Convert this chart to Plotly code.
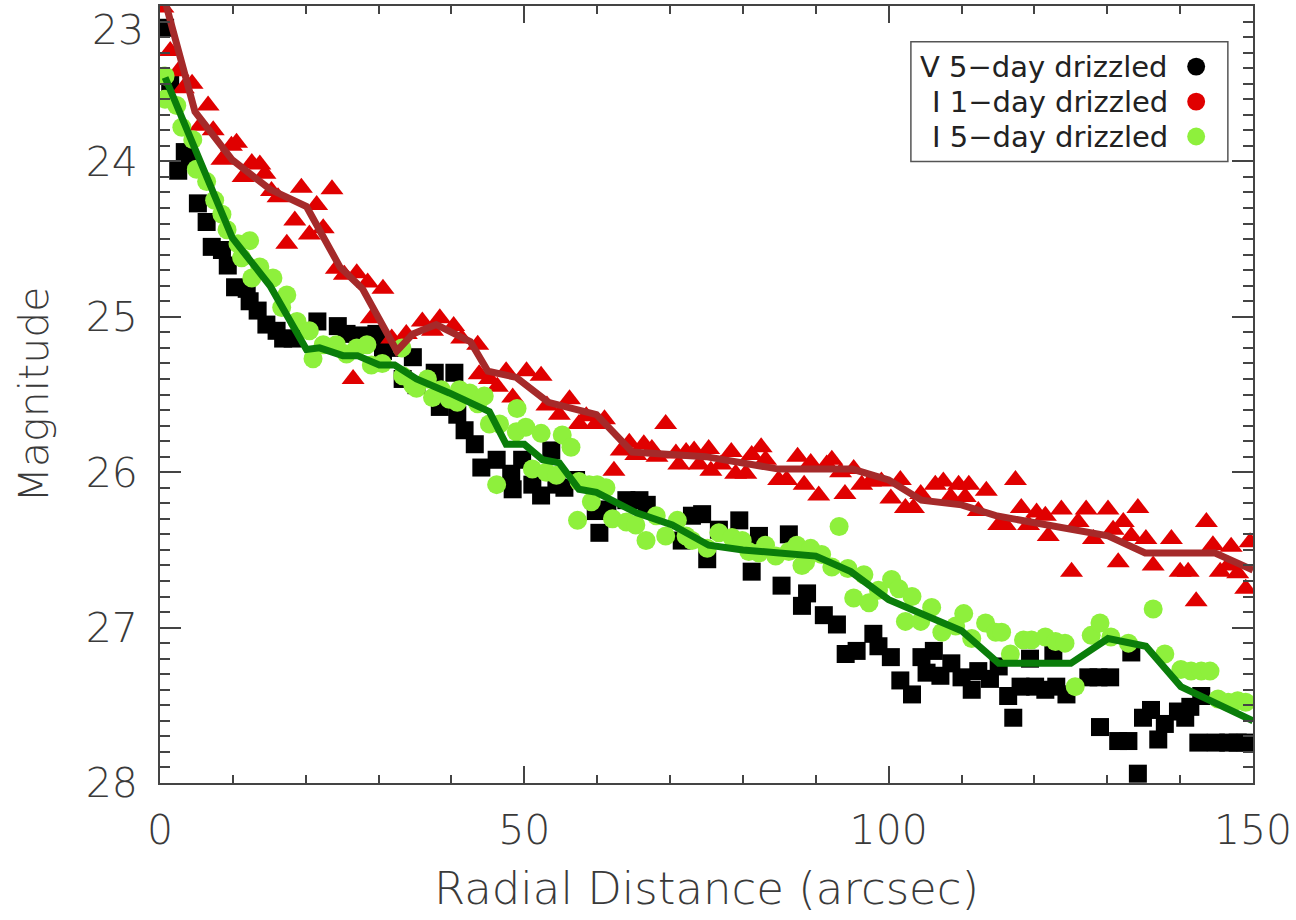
import plotly.graph_objects as go

# V 5-day drizzled (black squares)
v5_x = [0.7, 1.4, 2.5, 3.4, 4.1, 5.2, 6.4, 7.1, 8.5, 9.3, 10.3, 11.9, 12.3, 13.4, 14.6,
        16.0, 16.9, 18.2, 21.6, 24.4, 25.6, 27.8, 29.7, 30.6, 32.5, 33.3, 34.7, 35.2,
        37.7, 38.4, 40.4, 40.8, 41.8, 43.2, 44.1, 46.2, 48.2, 48.4, 49.7, 51.1, 52.3,
        53.7, 54.4, 55.5, 57.1, 59.8, 60.3, 61.4, 64.0, 65.8, 66.8, 71.6, 73.0, 74.4,
        75.1, 76.7, 79.5, 81.2, 82.2, 85.3, 86.3, 88.1, 88.8, 91.1, 92.9, 94.1, 95.6,
        97.9, 98.6, 100.3, 101.6, 103.2, 104.5, 105.2, 106.2, 107.1, 108.6, 110.0,
        111.4, 112.3, 113.9, 115.1, 116.4, 117.1, 118.1, 119.4, 120.1, 121.5, 122.6,
        123.0, 124.4, 127.4, 128.8, 129.0, 130.4, 131.5, 132.9, 133.3, 134.2, 134.9,
        136.0, 137.0, 137.9, 139.7, 140.7, 141.4, 142.5, 142.9, 144.9, 146.6, 147.9, 149.0]
v5_y = [23.14, 23.49, 24.06, 23.94, 23.99, 24.27, 24.39, 24.55, 24.57, 24.67, 24.81, 24.82,
        24.90, 24.96, 25.05, 25.09, 25.14, 25.14, 25.03, 25.06, 25.11, 25.12, 25.11, 25.22,
        25.20, 25.40, 25.26, 25.44, 25.36, 25.58, 25.36, 25.63, 25.73, 25.82, 25.97, 25.92,
        26.01, 26.11, 25.92, 26.08, 26.15, 25.86, 26.08, 26.10, 26.05, 26.25, 26.39, 26.24,
        26.18, 26.18, 26.21, 26.44, 26.28, 26.27, 26.56, 26.37, 26.31, 26.64, 26.41, 26.73,
        26.40, 26.86, 26.78, 26.92, 26.98, 27.17, 27.15, 27.04, 27.12, 27.19, 27.34, 27.43,
        27.19, 27.29, 27.15, 27.31, 27.23, 27.32, 27.40, 27.28, 27.33, 27.25, 27.44, 27.58,
        27.38, 27.20, 27.38, 27.40, 27.17, 27.38, 27.43, 27.32, 27.32, 27.64, 27.32, 27.73,
        27.73, 27.16, 27.94, 27.58, 27.53, 27.72, 27.62, 27.54, 27.58, 27.51, 27.74, 27.44,
        27.74, 27.74, 27.74, 27.74]

# I 1-day drizzled (red triangles)
i1_x = [0.4, 1.4, 2.5, 3.2, 4.4, 5.5, 6.6, 7.3, 8.5, 9.8, 10.5, 11.4, 12.6, 13.7, 14.4,
        15.3, 16.2, 17.4, 18.5, 19.4, 20.5, 21.5, 22.4, 23.6, 24.2, 25.3, 26.5, 27.0,
        28.5, 29.0, 30.6, 31.8, 33.8, 36.0, 37.4, 38.4, 40.3, 41.4, 43.6, 43.8, 45.2,
        46.3, 47.5, 48.4, 50.3, 52.3, 53.1, 54.8, 56.2, 57.5, 58.5, 59.8, 61.0, 62.3,
        63.3, 64.4, 65.3, 66.4, 67.5, 68.2, 69.4, 70.8, 71.2, 72.2, 73.3, 74.0, 75.3,
        75.6, 77.0, 78.4, 79.0, 80.4, 81.2, 82.5, 83.1, 84.9, 86.0, 87.5, 88.4, 89.3,
        90.4, 91.5, 92.2, 93.4, 94.0, 95.2, 96.3, 97.5, 99.0, 100.3, 101.6, 102.3, 103.4,
        104.4, 106.4, 107.5, 108.5, 109.6, 110.5, 111.0, 112.3, 113.4, 115.1, 116.0,
        117.4, 118.2, 119.2, 120.3, 121.5, 121.9, 123.7, 125.1, 126.0, 127.1, 128.1,
        130.1, 130.8, 131.5, 132.2, 133.3, 134.2, 135.3, 136.3, 138.8, 140.0, 141.1,
        142.2, 143.6, 144.5, 145.5, 146.6, 147.0, 147.9, 149.0, 149.6]
i1_y = [23.01, 23.29, 23.42, 23.53, 23.50, 23.77, 23.64, 23.80, 23.99, 23.90, 23.88, 24.10,
        24.01, 24.02, 24.08, 24.19, 24.23, 24.53, 24.38, 24.17, 24.47, 24.28, 24.43, 24.18,
        24.69, 24.73, 25.40, 24.72, 24.78, 25.01, 24.82, 25.14, 25.11, 25.03, 25.09, 25.01,
        25.06, 25.14, 25.18, 25.37, 25.40, 25.45, 25.35, 25.52, 25.35, 25.38, 25.57, 25.63,
        25.53, 25.69, 25.64, 25.69, 25.66, 25.99, 25.86, 25.81, 25.89, 25.82, 25.85, 25.90,
        25.69, 25.88, 25.95, 25.87, 25.86, 25.95, 25.85, 25.99, 25.95, 25.87, 26.01, 26.01,
        25.89, 25.84, 25.92, 26.05, 26.05, 25.90, 26.08, 25.94, 26.15, 25.95, 25.92, 26.00,
        26.14, 25.98, 26.08, 26.06, 26.06, 26.17, 26.05, 26.23, 26.23, 26.14, 26.08, 26.06,
        26.16, 26.08, 26.16, 26.08, 26.25, 26.12, 26.34, 26.34, 26.05, 26.23, 26.34, 26.26,
        26.28, 26.41, 26.24, 26.64, 26.32, 26.24, 26.43, 26.24, 26.37, 26.58, 26.32, 26.41,
        26.23, 26.43, 26.60, 26.43, 26.64, 26.64, 26.83, 26.32, 26.47, 26.64, 26.60, 26.48,
        26.65, 26.75, 26.45]

# I 5-day drizzled (light green circles)
i5_x = [0.7, 0.7, 2.3, 3.0, 4.5, 5.0, 6.4, 7.5, 8.5, 9.2, 10.7, 11.2, 12.3, 12.6, 13.7,
        15.5, 16.7, 17.4, 18.8, 20.5, 21.0, 22.4, 24.2, 25.6, 27.0, 28.4, 29.0, 30.5,
        33.2, 33.3, 34.7, 35.2, 36.7, 37.4, 38.6, 39.7, 40.8, 41.1, 42.5, 43.6, 44.5,
        45.2, 46.2, 46.6, 48.9, 49.0, 50.2, 51.1, 52.3, 53.0, 54.4, 55.2, 56.4, 57.3,
        57.5, 58.9, 59.2, 60.0, 61.2, 62.1, 64.0, 65.3, 66.7, 68.1, 69.4, 71.0, 72.2,
        73.0, 75.1, 76.7, 78.5, 79.9, 80.8, 82.2, 83.1, 84.5, 86.3, 87.4, 88.1, 88.6,
        89.3, 90.8, 92.2, 93.2, 94.4, 95.2, 96.6, 97.3, 98.6, 100.4, 101.4, 102.3, 103.2,
        104.4, 105.9, 107.3, 109.2, 110.3, 111.4, 113.3, 114.7, 115.5, 116.7, 118.5,
        119.6, 121.5, 122.9, 124.2, 125.6, 127.8, 129.0, 130.5, 132.9, 136.3, 137.9,
        140.1, 141.5, 142.9, 144.1, 145.2, 146.6, 147.9, 149.0]
i5_y = [23.45, 23.60, 23.64, 23.78, 23.86, 24.05, 24.13, 24.25, 24.34, 24.44, 24.53, 24.62,
        24.51, 24.75, 24.68, 24.75, 24.94, 24.86, 25.03, 25.09, 25.27, 25.18, 25.18, 25.24,
        25.20, 25.18, 25.31, 25.30, 25.20, 25.38, 25.44, 25.46, 25.40, 25.52, 25.47, 25.53,
        25.55, 25.47, 25.49, 25.56, 25.51, 25.69, 26.08, 25.69, 25.74, 25.59, 25.71, 25.98,
        25.75, 26.00, 26.02, 25.76, 25.84, 26.31, 26.06, 26.08, 26.19, 26.08, 26.10, 26.30,
        26.32, 26.34, 26.44, 26.28, 26.41, 26.31, 26.41, 26.44, 26.49, 26.39, 26.42, 26.44,
        26.51, 26.52, 26.47, 26.54, 26.51, 26.47, 26.60, 26.58, 26.49, 26.53, 26.61, 26.35,
        26.62, 26.81, 26.66, 26.84, 26.76, 26.69, 26.75, 26.96, 26.80, 26.96, 26.87, 27.03,
        26.99, 26.91, 27.07, 26.97, 27.03, 27.03, 27.17, 27.08, 27.08, 27.06, 27.09, 27.10,
        27.38, 27.05, 26.97, 27.06, 27.10, 26.88, 27.17, 27.27, 27.28, 27.28, 27.28, 27.46,
        27.48, 27.47, 27.48]

# smoothed profiles
i1_fit_x = [0.7, 4.8, 9.9, 15.1, 20.1, 24.7, 27.8, 32.5, 34.7, 37.9, 42.6, 45.0, 48.9,
            53.3, 59.9, 64.8, 74.9, 84.9, 95.0, 100.0, 104.5, 110.0, 114.7, 130.1,
            135.2, 144.8, 150.0]
i1_fit_y = [22.97, 23.68, 23.99, 24.18, 24.29, 24.68, 24.82, 25.22, 25.11, 25.05, 25.16,
            25.35, 25.39, 25.55, 25.63, 25.87, 25.90, 25.98, 25.98, 26.05, 26.18, 26.21,
            26.28, 26.41, 26.52, 26.52, 26.63]
i5_fit_x = [0.7, 9.9, 15.1, 20.1, 21.9, 25.1, 27.1, 30.1, 32.2, 35.2, 39.7, 45.2, 47.5,
            50.0, 52.5, 54.8, 57.5, 59.9, 65.3, 70.3, 75.3, 80.0, 85.0, 90.0, 94.8, 100.0,
            110.0, 115.1, 125.0, 130.1, 135.3, 140.1, 150.0]
i5_fit_y = [23.46, 24.49, 24.80, 25.21, 25.20, 25.25, 25.25, 25.31, 25.31, 25.40, 25.49,
            25.61, 25.82, 25.82, 25.92, 25.94, 26.11, 26.13, 26.26, 26.34, 26.47, 26.50,
            26.52, 26.54, 26.64, 26.82, 27.02, 27.23, 27.23, 27.07, 27.12, 27.38, 27.60]

x_ticks = [0, 50, 100, 150]
y_ticks = [24, 25, 26, 27, 28]
legend_labels = ["V 5\u2212day drizzled", "I 1\u2212day drizzled", "I 5\u2212day drizzled"]
legend_colors = ["#000000", "#e00000", "#8ef03c"]

FONT = "DejaVu Sans"
INK = "#3a3a3a"
AXC = "#444444"

fig = go.Figure()
fig.add_trace(go.Scatter(x=v5_x, y=v5_y, mode="markers", name=legend_labels[0],
                         marker=dict(symbol="square", size=18, color="#000000", line_width=0)))
fig.add_trace(go.Scatter(x=i1_x, y=i1_y, mode="markers", name=legend_labels[1],
                         marker=dict(symbol="triangle-up", size=20, color="#e00000", line_width=0)))
fig.add_trace(go.Scatter(x=i5_x, y=i5_y, mode="markers", name=legend_labels[2],
                         marker=dict(symbol="circle", size=19, color="#8ef03c", line_width=0)))
fig.add_trace(go.Scatter(x=i1_fit_x, y=i1_fit_y, mode="lines",
                         line=dict(color="#a52a2a", width=7)))
fig.add_trace(go.Scatter(x=i5_fit_x, y=i5_fit_y, mode="lines",
                         line=dict(color="#0a7d0a", width=7)))

# legend drawn by hand: text on the left, dot on the right
shapes = [dict(type="rect", xref="paper", yref="paper", x0=0.687, x1=0.977, y0=0.800, y1=0.954,
               line=dict(color="#555555", width=1.5), fillcolor="white", layer="above")]
annotations = []
row_y = [0.922, 0.877, 0.832]
for lab, col, ry in zip(legend_labels, legend_colors, row_y):
    annotations.append(dict(x=0.924, y=ry, xref="paper", yref="paper", text=lab,
                            xanchor="right", yanchor="middle", showarrow=False,
                            font=dict(family=FONT, size=29, color="#222222")))
    shapes.append(dict(type="circle", xref="paper", yref="paper",
                       x0=0.948 - 0.0082, x1=0.948 + 0.0082, y0=ry - 0.0115, y1=ry + 0.0115,
                       fillcolor=col, line_width=0, layer="above"))

# the top label sits just under the top edge, as in the original
annotations.append(dict(x=0, y=23, xref="paper", yref="y", text="23", xanchor="right",
                        yanchor="top", xshift=-14, yshift=2, showarrow=False,
                        font=dict(family=FONT, size=41, color=INK, weight=200)))

axis_common = dict(showline=True, linecolor=AXC, linewidth=2, mirror="ticks",
                   ticks="inside", tickcolor=AXC, tickwidth=2, showgrid=False,
                   zeroline=False, ticklabeloverflow="allow",
                   tickfont=dict(family=FONT, size=41, color=INK, weight=200))

fig.update_layout(
    width=1296, height=920,
    margin=dict(l=160, r=43, t=4, b=137),
    paper_bgcolor="white", plot_bgcolor="white",
    showlegend=False,
    shapes=shapes, annotations=annotations,
    xaxis=dict(range=[0, 150], tickvals=x_ticks, ticklen=17, ticklabelstandoff=10,
               minor=dict(dtick=10, ticklen=8, ticks="inside", tickcolor=AXC, tickwidth=2),
               title=dict(text="Radial Distance (arcsec)", standoff=19,
                          font=dict(family=FONT, size=45, color=INK, weight=200)),
               **axis_common),
    yaxis=dict(range=[28.0, 23.0], tickvals=y_ticks, ticklen=21, ticklabelstandoff=12,
               minor=dict(dtick=0.1, ticklen=10, ticks="inside", tickcolor=AXC, tickwidth=2),
               title=dict(text="Magnitude", standoff=24,
                          font=dict(family=FONT, size=41, color=INK, weight=200)),
               **axis_common),
)

fig.write_html("out.html", config={"displayModeBar": False},
               post_script="document.body.style.margin='0';")
